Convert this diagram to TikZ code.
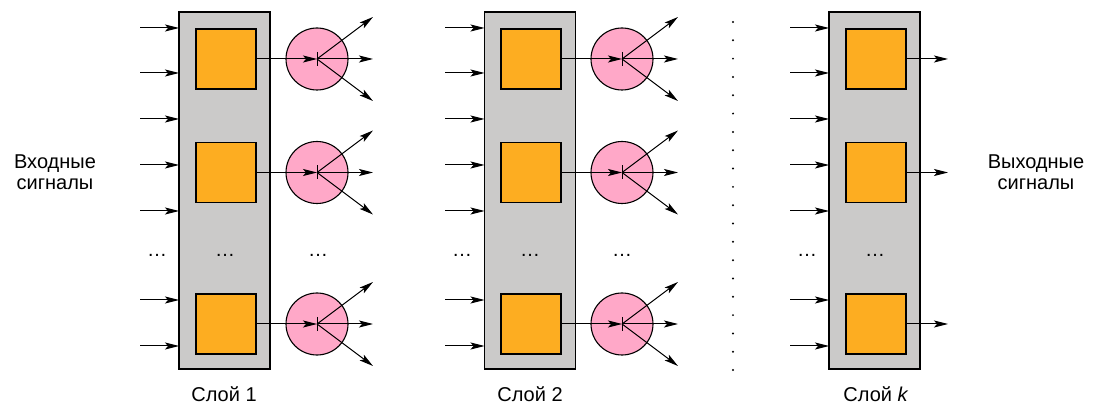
\documentclass[tikz,border=0pt]{standalone}
\usepackage{fontspec}
\setmainfont{Liberation Sans}
\usetikzlibrary{arrows.meta,calc}
\definecolor{layergray}{HTML}{CBCAC9}
\definecolor{cellorange}{HTML}{FDAD21}
\definecolor{nodepink}{HTML}{FFA8C8}
\begin{document}
\begin{tikzpicture}[x=1pt,y=-1pt,
  arr/.style={-{Stealth[length=14pt,width=7pt,inset=3pt]}, line width=1pt},
  layerbox/.style={draw, line width=1.2pt, fill=layergray, minimum width=91pt, minimum height=357pt, inner sep=0pt, outer sep=0pt},
  cell/.style={draw, line width=1.1pt, fill=cellorange, minimum size=60pt, inner sep=0pt, outer sep=0pt},
  neuron/.style={circle, draw, line width=1.1pt, fill=nodepink, minimum size=62pt, inner sep=0pt},
  lbl/.style={font=\fontsize{20}{21}\selectfont, align=center, inner sep=0pt},
  dotlbl/.style={font=\fontsize{20}{21}\selectfont, inner sep=0pt, anchor=base}]
\useasboundingbox (0,0) rectangle (1096,406);

% layer boxes
\node[layerbox] (L1) at (224.5,190.5) {};
\node[layerbox] (L2) at (530,190.5) {};
\node[layerbox] (Lk) at (874.5,190.5) {};

% cells
\foreach \L/\x in {1/226,2/531,k/876}{
  \node[cell] (c\L a) at (\x,59) {};
  \node[cell] (c\L b) at (\x,172.5) {};
  \node[cell] (c\L c) at (\x,324) {};
}

% input arrows
\foreach \L/\x in {1/140,2/445,k/790}{
  \foreach \y [count=\i] in {28,73,119,165,211,300,346}{
    \coordinate (in\L\i) at (\x,\y);
    \draw[arr] (in\L\i) -- (in\L\i -| L\L.west);
  }
}

% neurons
\foreach \L/\x in {1/317,2/622}{
  \foreach \r/\y in {a/59,b/172.5,c/324}{
    \node[neuron] (n\L\r) at (\x,\y) {};
    \draw[arr] (c\L\r.east) -- (n\L\r.center);
    \draw[line width=1pt] ($(n\L\r.center)+(0,-7)$) -- ($(n\L\r.center)+(0,7)$);
    \coordinate (o\L\r u) at ($(n\L\r.center)+(56,-42)$);
    \coordinate (o\L\r m) at ($(n\L\r.center)+(56,0)$);
    \coordinate (o\L\r d) at ($(n\L\r.center)+(56,42)$);
    \draw[arr] (n\L\r.center) -- (o\L\r u);
    \draw[arr] (n\L\r.center) -- (o\L\r m);
    \draw[arr] (n\L\r.center) -- (o\L\r d);
  }
}

% outputs of last layer
\foreach \r in {a,b,c}{
  \coordinate (outk\r) at ($(ck\r.east)+(42,0)$);
  \draw[arr] (ck\r.east) -- (outk\r);
}

% vertical dotted separator
\foreach \k in {0,...,19}{
  \fill ($(733,22)+(0,\k*18.32)$) circle (1.1pt);
}

% ellipses
\foreach \x in {157,225,318,462,530,622,807,875}{
  \node[dotlbl] (e\x) at (\x,257) {…};
}

% labels
\node[lbl] (inlbl) at (55,172) {Входные\\сигналы};
\node[lbl] (outlbl) at (1036,172) {Выходные\\сигналы};
\node[lbl, anchor=base] (s1) at (224,401) {Слой 1};
\node[lbl, anchor=base] (s2) at (530,401) {Слой 2};
\node[lbl, anchor=base] (sk) at (876,401) {Слой \textit{k}};
\end{tikzpicture}
\end{document}
